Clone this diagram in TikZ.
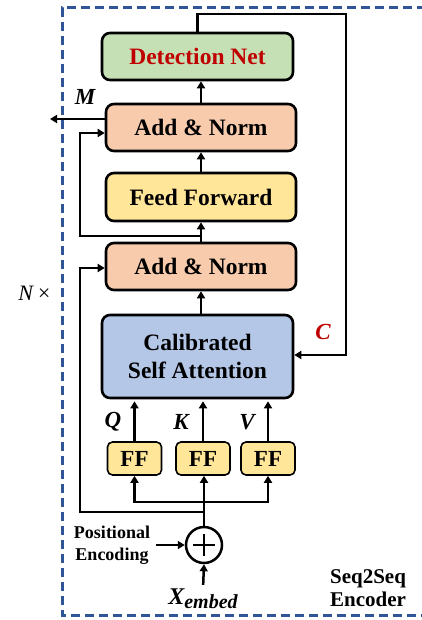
\documentclass[tikz,border=0pt]{standalone}
\usepackage{fontspec}
\setmainfont{Liberation Serif}
\usetikzlibrary{arrows.meta,calc}
\definecolor{bgreen}{HTML}{C5E0B4}
\definecolor{borange}{HTML}{F8CBAD}
\definecolor{byellow}{HTML}{FFE699}
\definecolor{bblue}{HTML}{B4C7E7}
\definecolor{dred}{HTML}{C00000}
\definecolor{dashblue}{HTML}{2F5597}
\begin{document}
\begin{tikzpicture}[x=1pt,y=-1pt,
  box/.style={draw=black, line width=2.6pt, rounded corners=8pt, font=\fontsize{23.5}{28}\selectfont\bfseries, align=center, inner sep=0pt},
  ffbox/.style={draw=black, line width=1.6pt, rounded corners=5pt, fill=byellow, minimum width=54pt, minimum height=33pt, font=\fontsize{23}{23}\selectfont\bfseries, inner sep=0pt},
  arr/.style={line width=2.5pt, -{Triangle[length=7pt,width=8pt]}},
  ln/.style={line width=2.5pt},
  lab/.style={font=\fontsize{23}{23}\selectfont\bfseries\itshape, inner sep=0pt}]
\useasboundingbox (0,0) rectangle (422,620);
\clip (0,0) rectangle (422,620);
\fill[white] (0,0) rectangle (422,620);
\draw[dashblue, line width=3pt, dash pattern=on 9pt off 5pt] (440,8) -- (62,8) -- (62,615) -- (440,615);

\node[box, fill=bgreen, minimum width=191pt, minimum height=47pt, text=dred] (det) at (197.5,56.5) {Detection Net};
\node[box, fill=borange, minimum width=190pt, minimum height=47pt] (an2) at (201,127.5) {Add \& Norm};
\node[box, fill=byellow, minimum width=190pt, minimum height=48pt] (ffw) at (201,197) {Feed Forward};
\node[box, fill=borange, minimum width=190pt, minimum height=47pt] (an1) at (201,266.5) {Add \& Norm};
\node[box, fill=bblue, minimum width=191pt, minimum height=83pt] (csa) at (197.5,356.5) {Calibrated\\Self Attention};

\node[ffbox] (ff1) at (134.5,458.5) {FF};
\node[ffbox] (ff2) at (203,458.5) {FF};
\node[ffbox] (ff3) at (268,458.5) {FF};

\node[draw=black, circle, line width=2.5pt, minimum size=36pt, inner sep=0pt] (plus) at (204,545) {};
\draw[line width=2pt] ($(plus.center)+(-11,0)$) -- ($(plus.center)+(11,0)$);
\draw[line width=2pt] ($(plus.center)+(0,-11)$) -- ($(plus.center)+(0,11)$);

% main vertical arrows
\draw[arr] (an2.north) -- (an2.north |- det.south);
\draw[arr] (ffw.north) -- (an2.south);
\draw[arr] (an1.north) -- (ffw.south);
\draw[arr] (an1.south |- csa.north) -- (an1.south);

% residual upper
\coordinate (r1) at (201,236);
\coordinate (l2) at (80,133);
\draw[arr] (r1) -| (l2) -- (l2 -| an2.west);

% M output
\coordinate (mend) at (50,119);
\draw[arr] (mend -| an2.west) -- (mend);
\node[lab] (M) at (85,97) {M};

% loop C
\coordinate (c1) at (346,14);
\coordinate (c2) at (346,355);
\draw[arr] (det.north) -- (det.north |- c1) -- (c1) -- (c2) -- (c2 -| csa.east);
\node[lab, text=dred] (C) at (323,332) {C};

% N x
\node[font=\fontsize{22}{22}\selectfont\itshape, inner sep=0pt] (N) at (35,293) {N\,×};

% QKV
\draw[arr, shorten >=2pt] (ff1.north) -- (ff1.north |- csa.south);
\draw[arr, shorten >=2pt] (ff2.north) -- (ff2.north |- csa.south);
\draw[arr, shorten >=2pt] (ff3.north) -- (ff3.north |- csa.south);
\node[lab] (Q) at (113,422) {Q};
\node[lab] (K) at (181,422) {K};
\node[lab] (V) at (247,422) {V};

% bottom branches
\coordinate (j1) at (204,502);
\coordinate (j2) at (204,512);
\draw[ln] (plus.north) -- (j1);
\draw[arr] (j1) -- (j1 |- ff2.south);
\draw[arr] (j1) -| (ff1.south);
\draw[arr] (j1) -| (ff3.south);
\coordinate (l1) at (80,268);
\draw[arr] (j2) -| (l1) -- (l1 -| an1.west);

% positional encoding
\node[font=\fontsize{18}{22}\selectfont\bfseries, align=center, inner sep=0pt] (pe) at (112,545) {Positional\\Encoding};
\draw[arr, shorten <=6pt] (pe.east |- plus.west) -- (plus.west);

% X embed
\node[inner sep=0pt, font=\bfseries\itshape] (xe) at (203,599) {\fontsize{24}{24}\selectfont X\raisebox{-4pt}{\fontsize{20}{20}\selectfont embed}};
\draw[arr, shorten <=4pt] (xe.north) -- (plus.south);

% encoder label
\node[font=\fontsize{21}{23}\selectfont\bfseries, align=center, inner sep=0pt] (enc) at (368,588) {Seq2Seq\\Encoder};
\end{tikzpicture}
\end{document}
